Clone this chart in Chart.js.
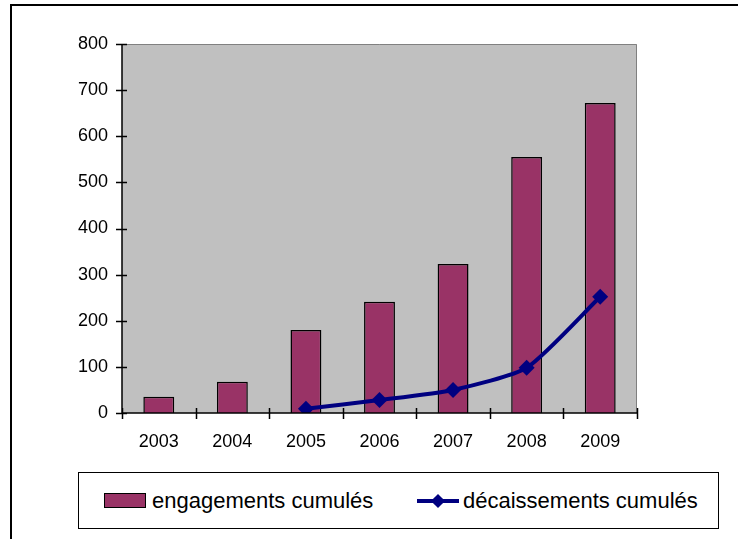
<!DOCTYPE html>
<html>
<head>
<meta charset="utf-8">
<script src="https://cdn.jsdelivr.net/npm/chart.js@4/dist/chart.umd.min.js"></script>
<style>
    html, body { margin: 0; padding: 0; background: #fff; overflow: hidden; }
    #wrap { position: relative; width: 738px; height: 539px; }
    #frame {
        position: absolute; left: 10px; top: 4px; width: 800px; height: 600px;
        border-left: 2px solid #000; border-top: 2px solid #000;
    }
    #chart { position: absolute; left: 0; top: 0; }
    #legend {
        position: absolute; left: 78px; top: 472px; width: 639px; height: 55px;
        border: 1px solid #000; background: #fff;
        font-family: "Liberation Sans", Arial, sans-serif; font-size: 22px; color: #000;
    }
    .item { position: absolute; top: 0; height: 55px; display: flex; align-items: center; white-space: nowrap; }
    .swatch { width: 40px; height: 13px; border: 1px solid #000; margin-right: 6px; }
    .lmark { position: relative; width: 42px; height: 14px; margin-right: 4px; }
    .lmark .ln { position: absolute; left: 0; right: 0; top: 5px; height: 4px; }
    .lmark .dm { position: absolute; left: 16px; top: 2px; width: 10px; height: 10px; transform: rotate(45deg); }
</style>
</head>
<body>
<div id="wrap">
    <div id="frame"></div>
    <canvas id="chart" width="738" height="539"></canvas>
    <div id="legend"></div>
</div>
<script>
const years = ["2003", "2004", "2005", "2006", "2007", "2008", "2009"];
const engagements = [35, 68, 180, 241, 323, 555, 672];
const decaissements = [null, null, 9, 28, 50, 98, 252];
const yTicks = [0, 100, 200, 300, 400, 500, 600, 700, 800];

const barColor = "#993366";
const lineColor = "#000080";
const font = "Liberation Sans, Arial, sans-serif";

// plot background, axis lines and crossing tick marks
const axesPlugin = {
    id: "axes",
    beforeDraw(chart) {
        const { ctx, chartArea: a } = chart;
        ctx.save();
        ctx.fillStyle = "#c0c0c0";
        ctx.fillRect(a.left, a.top, a.right - a.left, a.bottom - a.top);
        ctx.strokeStyle = "#808080";
        ctx.lineWidth = 1;
        ctx.beginPath();
        ctx.moveTo(a.left, a.top + 0.5);
        ctx.lineTo(a.right - 0.5, a.top + 0.5);
        ctx.lineTo(a.right - 0.5, a.bottom);
        ctx.stroke();
        ctx.restore();
    },
    afterDatasetsDraw(chart) {
        const { ctx, chartArea: a, scales } = chart;
        ctx.save();
        ctx.strokeStyle = "#000";
        ctx.lineWidth = 1.5;
        ctx.beginPath();
        ctx.moveTo(a.left, a.top);
        ctx.lineTo(a.left, a.bottom);
        ctx.lineTo(a.right, a.bottom);
        yTicks.forEach(v => {
            const y = Math.round(scales.y.getPixelForValue(v)) + 0.5;
            ctx.moveTo(a.left - 6, y);
            ctx.lineTo(a.left + 5, y);
        });
        const step = (a.right - a.left) / years.length;
        for (let i = 0; i <= years.length; i++) {
            const x = Math.round(a.left + i * step) + 0.5;
            ctx.moveTo(x, a.bottom - 5);
            ctx.lineTo(x, a.bottom + 6);
        }
        ctx.stroke();
        ctx.restore();
    }
};

const chart = new Chart(document.getElementById("chart"), {
    data: {
        labels: years,
        datasets: [
            {
                type: "line",
                label: "décaissements cumulés",
                data: decaissements,
                borderColor: lineColor,
                backgroundColor: lineColor,
                borderWidth: 4,
                pointStyle: "rectRot",
                pointRadius: 8,
                pointBorderWidth: 0,
                tension: 0.2,
                order: 0
            },
            {
                type: "bar",
                label: "engagements cumulés",
                data: engagements,
                backgroundColor: barColor,
                borderColor: "#000",
                borderWidth: 1.5,
                categoryPercentage: 1,
                barPercentage: 0.42,
                order: 1
            }
        ]
    },
    options: {
        responsive: false,
        animation: false,
        events: [],
        layout: { padding: { top: 44, right: 101, left: 0, bottom: 0 } },
        plugins: { legend: { display: false }, tooltip: { enabled: false } },
        scales: {
            x: {
                grid: { display: false },
                border: { display: false },
                ticks: { color: "#000", font: { family: font, size: 18 }, padding: 10, maxRotation: 0 },
                afterFit: s => { s.height = 126; }
            },
            y: {
                min: 0, max: 800,
                afterBuildTicks: s => { s.ticks = yTicks.map(v => ({ value: v })); },
                grid: { display: false },
                border: { display: false },
                ticks: { color: "#000", font: { family: font, size: 18 }, padding: 6 },
                afterFit: s => { s.width = 122; }
            }
        }
    },
    plugins: [axesPlugin]
});

// legend in the order of the picture: bars then line
const legend = document.getElementById("legend");
const barDs = chart.data.datasets[1];
const lineDs = chart.data.datasets[0];
legend.innerHTML = `
    <div class="item" style="left:25px">
        <div class="swatch" style="background:${barDs.backgroundColor}"></div>${barDs.label}
    </div>
    <div class="item" style="left:338px">
        <div class="lmark">
            <div class="ln" style="background:${lineDs.borderColor}"></div>
            <div class="dm" style="background:${lineDs.borderColor}"></div>
        </div>${lineDs.label}
    </div>
`;
</script>
</body>
</html>
